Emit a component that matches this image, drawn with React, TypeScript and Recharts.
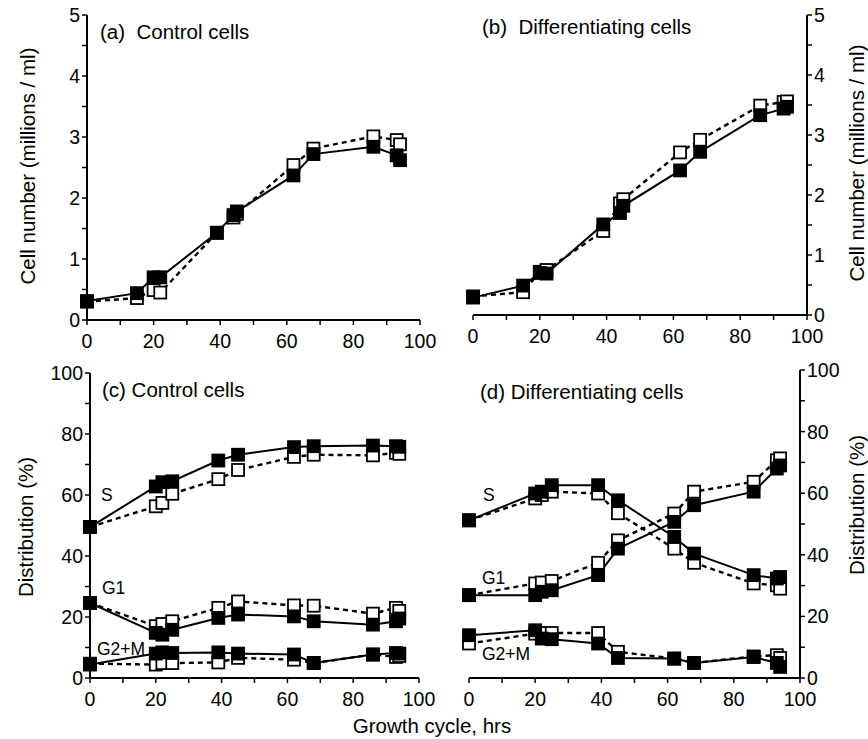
import { Line, LineChart, XAxis, YAxis } from "recharts";

const FONT = "'Liberation Sans', Arial, Helvetica, sans-serif";

// hours sampled, top panels (cell number)
const hoursTop = [0, 15, 20, 22, 39, 44, 45, 62, 68, 86, 93, 94];
const aFilled = [0.31, 0.44, 0.7, 0.7, 1.43, 1.72, 1.78, 2.37, 2.72, 2.84, 2.7, 2.62];
const aOpen = [0.3, 0.36, 0.49, 0.45, 1.43, 1.68, 1.74, 2.54, 2.81, 3.01, 2.95, 2.88];
const bFilled = [0.29, 0.49, 0.7, 0.69, 1.51, 1.7, 1.82, 2.41, 2.72, 3.33, 3.44, 3.47];
const bOpen = [0.31, 0.38, 0.72, 0.75, 1.4, 1.86, 1.93, 2.71, 2.92, 3.49, 3.55, 3.56];

// hours sampled, bottom panels (distribution %)
const hoursBottom = [0, 20, 22, 25, 39, 45, 62, 68, 86, 93, 94];
const cSFilled = [49.5, 62.8, 64.2, 64.5, 71.3, 73.2, 75.7, 76.0, 76.2, 76.0, 75.8];
const cSOpen = [49.5, 56.3, 57.4, 60.4, 65.2, 68.2, 72.5, 73.2, 73.0, 73.8, 73.5];
const cG1Filled = [24.6, 14.8, 14.2, 15.8, 19.7, 20.8, 20.2, 18.6, 17.5, 18.6, 19.5];
const cG1Open = [24.6, 17.0, 17.7, 18.6, 23.0, 25.1, 23.8, 23.7, 21.1, 23.0, 22.0];
const cG2Filled = [4.4, 8.0, 8.4, 8.2, 8.4, 8.0, 7.7, 4.9, 7.7, 8.2, 8.0];
const cG2Open = [4.7, 4.4, 4.9, 4.9, 5.1, 6.6, 6.0, 4.9, 7.7, 6.9, 7.2];
const dSFilled = [51.2, 59.9, 60.5, 62.6, 62.6, 57.7, 45.8, 40.4, 33.4, 32.3, 32.8];
const dSOpen = [51.2, 58.3, 59.4, 60.5, 59.9, 53.5, 42.0, 37.4, 30.7, 30.1, 29.0];
const dG1Filled = [26.9, 26.9, 28.0, 28.5, 33.4, 42.0, 50.7, 56.1, 60.5, 68.0, 69.0];
const dG1Open = [26.9, 30.7, 31.0, 31.5, 37.4, 44.7, 53.4, 60.5, 63.7, 70.7, 71.3];
const dG2Filled = [13.9, 15.5, 12.8, 12.6, 11.2, 6.5, 6.3, 4.9, 6.8, 4.9, 3.6];
const dG2Open = [11.2, 14.4, 14.6, 14.6, 14.6, 8.5, 6.3, 4.9, 7.0, 7.4, 6.5];

const xTicks = [0, 10, 20, 30, 40, 50, 60, 70, 80, 90, 100];
const cellTicks = [0, 0.5, 1, 1.5, 2, 2.5, 3, 3.5, 4, 4.5, 5];
const distTicks = [0, 10, 20, 30, 40, 50, 60, 70, 80, 90, 100];

const toRows = (hours: number[], vals: number[]) =>
  hours.map((t, i) => ({ t, v: vals[i] }));

const square = (filled: boolean) => (props: any) => {
  const { cx, cy, index } = props;
  if (cx == null || cy == null) return <g key={`e${index}`} />;
  return (
    <rect
      key={`sq${index}`}
      x={cx - 6}
      y={cy - 6}
      width={12}
      height={12}
      fill={filled ? "#000" : "#fff"}
      stroke="#000"
      strokeWidth={1.8}
    />
  );
};

type Series = { vals: number[]; filled: boolean };

type PanelProps = {
  left: number;
  top: number;
  width: number;
  height: number;
  margin: { top: number; right: number; bottom: number; left: number };
  hours: number[];
  series: Series[];
  yTicks: number[];
  yMax: number;
  labelEvery: number;
  side: "left" | "right";
  axisWidth: number;
};

const tickStyle = { fill: "#000", fontSize: 19.5, fontFamily: FONT };
const axisLine = { stroke: "#000", strokeWidth: 2 };
const tickLine = { stroke: "#000", strokeWidth: 1.5 };

function Panel(p: PanelProps) {
  const other = p.side === "left" ? "right" : "left";
  const fmt = (v: number) =>
    Math.abs(v / p.labelEvery - Math.round(v / p.labelEvery)) < 1e-6 ? String(v) : "";
  // dashed (open) series first so the filled ones sit on top
  const ordered = [...p.series.filter((s) => !s.filled), ...p.series.filter((s) => s.filled)];
  return (
    <div style={{ position: "absolute", left: p.left, top: p.top }}>
      <LineChart width={p.width} height={p.height} margin={p.margin}>
        <XAxis
          xAxisId="main"
          type="number"
          dataKey="t"
          domain={[0, 100]}
          ticks={xTicks}
          tickFormatter={(v: number) => (v % 20 === 0 ? String(v) : "")}
          height={30}
          tick={tickStyle}
          tickSize={5}
          tickMargin={9}
          axisLine={axisLine}
          tickLine={tickLine}
        />
        <XAxis
          xAxisId="top"
          orientation="top"
          type="number"
          dataKey="t"
          domain={[0, 100]}
          height={0}
          tick={false}
          tickLine={false}
          axisLine={axisLine}
        />
        <YAxis
          yAxisId="main"
          orientation={p.side}
          type="number"
          domain={[0, p.yMax]}
          ticks={p.yTicks}
          tickFormatter={fmt}
          width={p.axisWidth}
          tick={tickStyle}
          tickSize={5}
          tickMargin={2}
          axisLine={axisLine}
          tickLine={tickLine}
        />
        <YAxis
          yAxisId="frame"
          orientation={other}
          type="number"
          domain={[0, p.yMax]}
          ticks={p.yTicks}
          tickFormatter={() => ""}
          width={0}
          mirror
          tickSize={4}
          axisLine={axisLine}
          tickLine={tickLine}
        />
        {ordered.map((s, i) => (
          <Line
            key={i}
            xAxisId="main"
            yAxisId="main"
            data={toRows(p.hours, s.vals)}
            dataKey="v"
            type="linear"
            stroke="#000"
            strokeWidth={s.filled ? 2 : 2.4}
            strokeDasharray={s.filled ? undefined : "5 4"}
            dot={square(s.filled)}
            activeDot={false}
            isAnimationActive={false}
          />
        ))}
      </LineChart>
    </div>
  );
}

const txt = { fontFamily: FONT, fill: "#000" };

export default function App() {
  return (
    <div style={{ position: "absolute", left: 0, top: 0, width: 868, height: 739, background: "#fff" }}>
      <Panel
        left={0}
        top={0}
        width={440}
        height={365}
        margin={{ top: 15, right: 20, bottom: 15, left: 0 }}
        hours={hoursTop}
        series={[
          { vals: aFilled, filled: true },
          { vals: aOpen, filled: false },
        ]}
        yTicks={cellTicks}
        yMax={5}
        labelEvery={1}
        side="left"
        axisWidth={87}
      />
      <Panel
        left={440}
        top={0}
        width={428}
        height={365}
        margin={{ top: 15, right: 0, bottom: 20, left: 33 }}
        hours={hoursTop}
        series={[
          { vals: bFilled, filled: true },
          { vals: bOpen, filled: false },
        ]}
        yTicks={cellTicks}
        yMax={5}
        labelEvery={1}
        side="right"
        axisWidth={61}
      />
      <Panel
        left={0}
        top={345}
        width={440}
        height={385}
        margin={{ top: 28, right: 21, bottom: 22, left: 0 }}
        hours={hoursBottom}
        series={[
          { vals: cSFilled, filled: true },
          { vals: cSOpen, filled: false },
          { vals: cG1Filled, filled: true },
          { vals: cG1Open, filled: false },
          { vals: cG2Filled, filled: true },
          { vals: cG2Open, filled: false },
        ]}
        yTicks={distTicks}
        yMax={100}
        labelEvery={20}
        side="left"
        axisWidth={90}
      />
      <Panel
        left={440}
        top={345}
        width={428}
        height={385}
        margin={{ top: 25, right: 8, bottom: 22, left: 29 }}
        hours={hoursBottom}
        series={[
          { vals: dSFilled, filled: true },
          { vals: dSOpen, filled: false },
          { vals: dG1Filled, filled: true },
          { vals: dG1Open, filled: false },
          { vals: dG2Filled, filled: true },
          { vals: dG2Open, filled: false },
        ]}
        yTicks={distTicks}
        yMax={100}
        labelEvery={20}
        side="right"
        axisWidth={60}
      />
      <svg
        width={868}
        height={739}
        style={{ position: "absolute", left: 0, top: 0, pointerEvents: "none" }}
      >
        <g style={txt} fontSize={20.5}>
          <text x={100} y={39} xmlSpace="preserve">(a)  Control cells</text>
          <text x={482} y={34} xmlSpace="preserve">(b)  Differentiating cells</text>
          <text x={102} y={397}>(c) Control cells</text>
          <text x={480} y={399}>(d) Differentiating cells</text>
        </g>
        <g style={txt} fontSize={17.5}>
          <text x={101} y={501}>S</text>
          <text x={102} y={594}>G1</text>
          <text x={97} y={655}>G2+M</text>
          <text x={483} y={501}>S</text>
          <text x={482} y={584}>G1</text>
          <text x={482} y={660}>G2+M</text>
        </g>
        <g style={txt} fontSize={20.5}>
          <text transform="translate(27,166) rotate(-90)" textAnchor="middle" dominantBaseline="central">
            Cell number (millions / ml)
          </text>
          <text transform="translate(856,163) rotate(-90)" textAnchor="middle" dominantBaseline="central">
            Cell number (millions / ml)
          </text>
          <text transform="translate(25,527) rotate(-90)" textAnchor="middle" dominantBaseline="central">
            Distribution (%)
          </text>
          <text transform="translate(856,505) rotate(-90)" textAnchor="middle" dominantBaseline="central">
            Distribution (%)
          </text>
          <text x={432} y={733} textAnchor="middle">
            Growth cycle, hrs
          </text>
        </g>
      </svg>
    </div>
  );
}
